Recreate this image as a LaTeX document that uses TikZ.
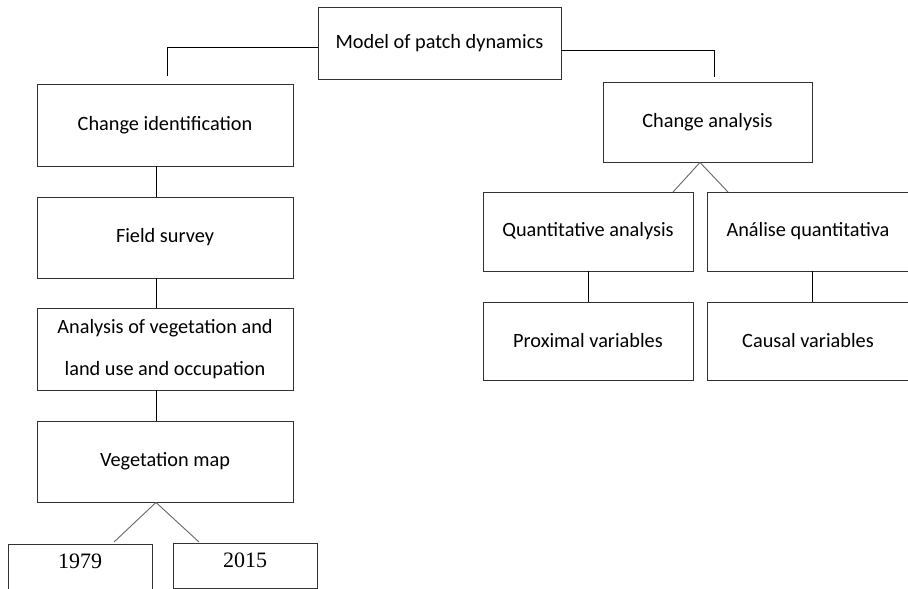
\documentclass[tikz,border=0pt]{standalone}
\usepackage{fontspec}
\setmainfont{Carlito}
\newfontfamily\yearfont{Liberation Serif}
\usepackage{tikz}
\definecolor{boxline}{HTML}{333333}
\definecolor{slant}{HTML}{666666}

\begin{document}
\begin{tikzpicture}[x=1pt,y=-1pt,
    bnode/.style={draw=boxline,line width=0.9pt,rectangle,inner sep=0pt,align=center,font=\fontsize{20.3}{42}\selectfont},
    ynode/.style={draw=boxline,line width=0.9pt,rectangle,inner sep=0pt,minimum width=144pt,text height=24pt,text depth=52pt,font=\yearfont\fontsize{22}{26}\selectfont}]
    \useasboundingbox (0,0) rectangle (908,589);
    \clip (0,0) rectangle (908,589);

    \node[bnode,minimum width=243pt,minimum height=72pt] (model) at (439.5,43) {Model of patch dynamics};
    \node[bnode,minimum width=256pt,minimum height=82pt] (ci) at (165,125) {Change identification};
    \node[bnode,minimum width=256pt,minimum height=81pt] (fs) at (165,237.5) {Field survey};
    \node[bnode,minimum width=256pt,minimum height=82pt] (av) at (165,349) {Analysis of vegetation and\\land use and occupation};
    \node[bnode,minimum width=256pt,minimum height=81pt] (vm) at (165,461.5) {Vegetation map};
    \node[ynode,anchor=north] (y1) at (80,544) {1979};
    \node[ynode,anchor=north,text depth=20pt,minimum height=45pt] (y2) at (245,543) {2015};

    \node[bnode,minimum width=209pt,minimum height=80pt] (ca) at (707.5,122) {Change analysis};
    \node[bnode,minimum width=210pt,minimum height=79pt] (qa) at (588,231.5) {Quantitative analysis};
    \node[bnode,minimum width=202pt,minimum height=79pt] (aq) at (808,231.5) {Análise quantitativa};
    \node[bnode,minimum width=210pt,minimum height=78pt] (pv) at (588,341) {Proximal variables};
    \node[bnode,minimum width=202pt,minimum height=78pt] (cv) at (808,341) {Causal variables};

    \coordinate (cil) at (167,76);
    \coordinate (cal) at (714,77);
    \coordinate (lx) at (156,0);
    \coordinate (rx) at (812,0);
    \coordinate (vl) at (114,542);
    \coordinate (vr) at (199,542);
    \coordinate (cl) at (673,192);
    \coordinate (cr) at (728,192);

    \begin{scope}[draw=black,line width=0.9pt]
    \draw ([yshift=-4pt]model.west) -| (cil);
    \draw ([yshift=-7pt]model.east) -| (cal);
    \draw (ci.south -| lx) -- (fs.north -| lx);
    \draw (fs.south -| lx) -- (av.north -| lx);
    \draw (av.south -| lx) -- (vm.north -| lx);
    \draw (qa.south) -- (pv.north);
    \draw (aq.south -| rx) -- (cv.north -| rx);
    \end{scope}

    \begin{scope}[draw=slant,line width=0.9pt]
    \draw (vl) -- (vm.south -| lx) -- (vr);
    \draw (cl) -- ([xshift=-7.5pt]ca.south) -- (cr);
    \end{scope}
\end{tikzpicture}
\end{document}
